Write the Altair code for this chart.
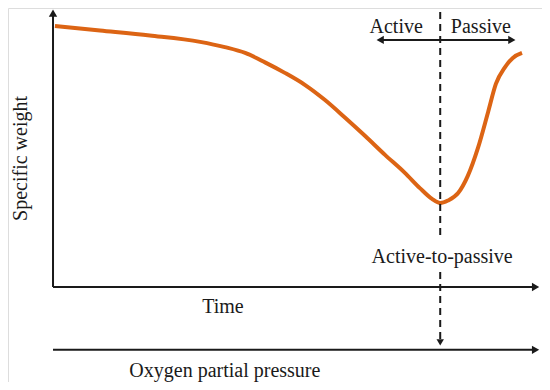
import altair as alt
import pandas as pd

# Schematic curve: specific weight vs time (abstract units 0-100)
curve_t = [0.4, 9.7, 20.0, 30.4, 35.5, 39.7, 43.8, 47.9, 52.1, 56.2, 60.3, 64.5, 68.6,
           72.7, 75.8, 78.3, 80.0, 81.6, 83.7, 85.7, 87.8, 89.9, 91.5, 93.4, 95.0, 96.9]
curve_w = [94.2, 92.6, 90.8, 88.5, 86.6, 84.5, 81.1, 77.3, 72.9, 67.5, 61.2, 54.5, 47.7,
           41.2, 35.7, 31.8, 30.3, 31.2, 33.9, 40.1, 50.2, 63.2, 73.3, 79.4, 82.7, 84.5]

transition_t = 80.0
axis_end_t = 99.7
axis_top_w = 98.9
pressure_w = -22.7

label_text = ["Active", "Passive", "Active-to-passive", "Time", "Oxygen partial pressure"]
label_t = [70.9, 88.4, 80.4, 35.1, 35.5]
label_w = [91.7, 91.7, 8.7, -9.4, -32.5]

ylabel_text = ["Specific weight"]
ylabel_t = [-5.3]
ylabel_w = [46.4]

regime_arrow_t = [67.6, 94.8]
regime_arrow_w = 89.2

dash_top = [99.3, 5.4]
dash_bottom = [17.0, -19.5]

xs = alt.Scale(domain=[-9.3, 101.03], nice=False, zero=False)
ys = alt.Scale(domain=[-34.3, 100.72], nice=False, zero=False)
X = lambda f: alt.X(f, type="quantitative", scale=xs, axis=None)
Y = lambda f: alt.Y(f, type="quantitative", scale=ys, axis=None)

ink = "#1a1a1a"
orange = "#DC6414"

curve_df = pd.DataFrame({"t": curve_t, "w": curve_w})
curve = alt.Chart(curve_df).mark_line(color=orange, strokeWidth=4, interpolate="monotone").encode(
    x=X("t"), y=Y("w"))

# horizontal axes (time axis and pressure axis)
h_df = pd.DataFrame({"t": [0, 0], "t2": [axis_end_t, axis_end_t], "w": [0, pressure_w]})
h_rules = alt.Chart(h_df).mark_rule(color=ink, strokeWidth=2).encode(
    x=X("t"), x2="t2", y=Y("w"))

v_df = pd.DataFrame({"t": [0], "w": [0], "w2": [axis_top_w]})
v_rule = alt.Chart(v_df).mark_rule(color=ink, strokeWidth=2).encode(
    x=X("t"), y=Y("w"), y2="w2")

right_heads_df = pd.DataFrame({"t": [axis_end_t, axis_end_t, regime_arrow_t[1]],
                               "w": [0, pressure_w, regime_arrow_w]})
right_heads = alt.Chart(right_heads_df).mark_point(
    shape="triangle-right", filled=True, size=70, color=ink, opacity=1).encode(x=X("t"), y=Y("w"))

left_head = alt.Chart(pd.DataFrame({"t": [regime_arrow_t[0]], "w": [regime_arrow_w]})).mark_point(
    shape="triangle-left", filled=True, size=70, color=ink, opacity=1).encode(x=X("t"), y=Y("w"))

up_head = alt.Chart(pd.DataFrame({"t": [0], "w": [axis_top_w]})).mark_point(
    shape="triangle-up", filled=True, size=70, color=ink, opacity=1).encode(x=X("t"), y=Y("w"))

down_head = alt.Chart(pd.DataFrame({"t": [transition_t], "w": [-20.0]})).mark_point(
    shape="triangle-down", filled=True, size=55, color=ink, opacity=1).encode(x=X("t"), y=Y("w"))

regime_df = pd.DataFrame({"t": [regime_arrow_t[0]], "t2": [regime_arrow_t[1]], "w": [regime_arrow_w]})
regime = alt.Chart(regime_df).mark_rule(color=ink, strokeWidth=2).encode(
    x=X("t"), x2="t2", y=Y("w"))

dash_df = pd.DataFrame({"t": [transition_t, transition_t], "w": dash_top, "w2": dash_bottom})
dashed = alt.Chart(dash_df).mark_rule(color=ink, strokeWidth=2, strokeDash=[7, 5]).encode(
    x=X("t"), y=Y("w"), y2="w2")

labels_df = pd.DataFrame({"t": label_t, "w": label_w, "txt": label_text})
labels = alt.Chart(labels_df).mark_text(
    font="Liberation Serif", fontSize=20, align="center", baseline="alphabetic", color=ink).encode(
    x=X("t"), y=Y("w"), text="txt")

ylab_df = pd.DataFrame({"t": ylabel_t, "w": ylabel_w, "txt": ylabel_text})
ylab = alt.Chart(ylab_df).mark_text(
    font="Liberation Serif", fontSize=20, align="center", baseline="alphabetic", angle=270, color=ink).encode(
    x=X("t"), y=Y("w"), text="txt")

chart = alt.layer(
    curve, h_rules, v_rule, regime, dashed,
    right_heads, left_head, up_head, down_head, labels, ylab
).properties(
    width=534, height=374, padding=0,
    autosize=alt.AutoSizeParams(type="none")
).configure_view(stroke=None).configure(background="white")

chart.save("out.html", embed_options={"renderer": "svg", "actions": False})
